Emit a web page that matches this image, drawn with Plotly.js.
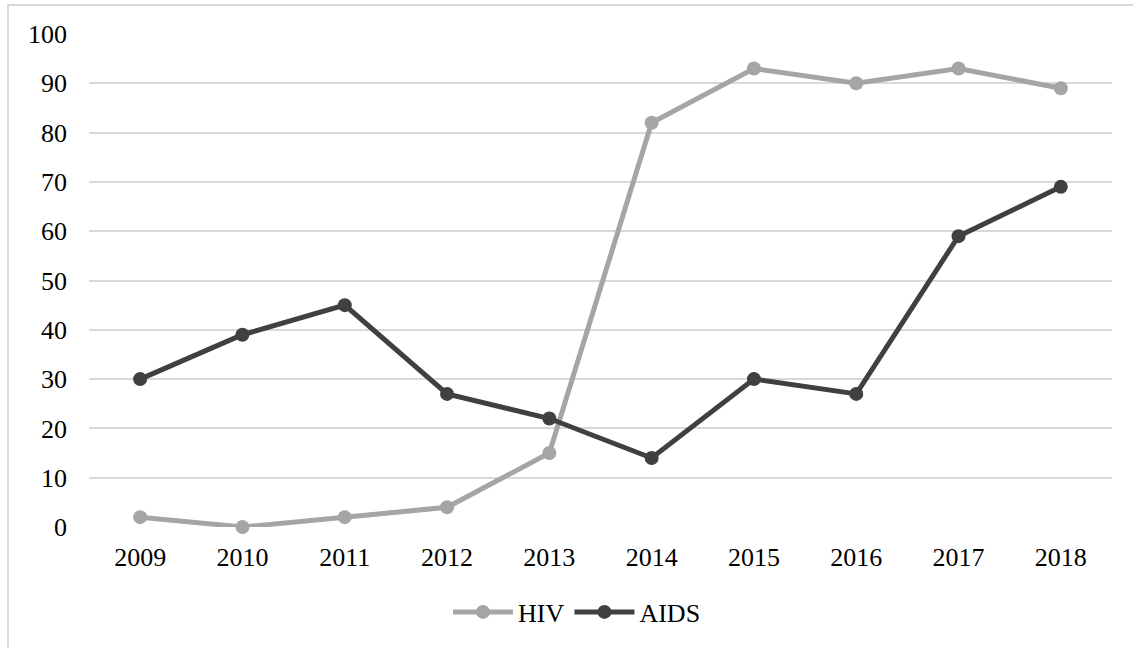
<!DOCTYPE html>
<html>
<head>
<meta charset="utf-8">
<script src="https://cdn.plot.ly/plotly-3.0.1.min.js"></script>
<style>
  html, body { margin: 0; padding: 0; background: #ffffff; }
  #chart { width: 1133px; height: 648px; }
</style>
</head>
<body>
<div id="chart"></div>
<script>
const years = ['2009', '2010', '2011', '2012', '2013', '2014', '2015', '2016', '2017', '2018'];
const hivValues = [2, 0, 2, 4, 15, 82, 93, 90, 93, 89];
const aidsValues = [30, 39, 45, 27, 22, 14, 30, 27, 59, 69];
const yTicks = [0, 10, 20, 30, 40, 50, 60, 70, 80, 90, 100];

const W = 1133, H = 648;
const mL = 89, mR = 21, mT = 34, mB = 121;
const pw = W - mL - mR, ph = H - mT - mB;
const px2x = p => (p - mL) / pw;
const py2y = p => (H - mB - p) / ph;

const fontFam = '"Liberation Serif", "Times New Roman", serif';
const fs = 26;

const traces = [
  {
    x: years, y: hivValues, name: 'HIV', type: 'scatter', mode: 'lines+markers',
    line: { color: '#a5a5a5', width: 5 },
    marker: { color: '#a5a5a5', size: 14 },
    cliponaxis: false
  },
  {
    x: years, y: aidsValues, name: 'AIDS', type: 'scatter', mode: 'lines+markers',
    line: { color: '#404040', width: 5 },
    marker: { color: '#404040', size: 14 },
    cliponaxis: false
  }
];

const layout = {
  width: W, height: H,
  margin: { l: mL, r: mR, t: mT, b: mB, pad: 0 },
  paper_bgcolor: '#ffffff',
  plot_bgcolor: '#ffffff',
  font: { family: fontFam, size: fs, color: '#000000' },
  showlegend: true,
  legend: {
    orientation: 'h', x: px2x(577), xanchor: 'center', y: py2y(612), yanchor: 'middle',
    font: { family: fontFam, size: fs, color: '#000000' },
    itemwidth: 60, tracegroupgap: 0
  },
  xaxis: {
    type: 'category', range: [-0.5, 9.5], fixedrange: true,
    showgrid: false, zeroline: false, showline: false,
    ticks: '', ticklabelstandoff: 12,
    tickfont: { family: fontFam, size: fs, color: '#000000' }
  },
  yaxis: {
    range: [0, 100], tickvals: yTicks, ticktext: yTicks.map(String), fixedrange: true,
    showgrid: true, gridcolor: '#d9d9d9', gridwidth: 2,
    zeroline: false, showline: false, ticks: '', ticklabelstandoff: 21,
    tickfont: { family: fontFam, size: fs, color: '#000000' }
  },
  shapes: [
    { type: 'line', xref: 'paper', yref: 'paper', x0: px2x(8), x1: px2x(8), y0: py2y(4), y1: py2y(660),
      line: { color: '#d9d9d9', width: 2 } },
    { type: 'line', xref: 'paper', yref: 'paper', x0: px2x(7), x1: px2x(1140), y0: py2y(5), y1: py2y(5),
      line: { color: '#d9d9d9', width: 2 } }
  ]
};

Plotly.newPlot('chart', traces, layout, { displayModeBar: false, staticPlot: true });
</script>
</body>
</html>
